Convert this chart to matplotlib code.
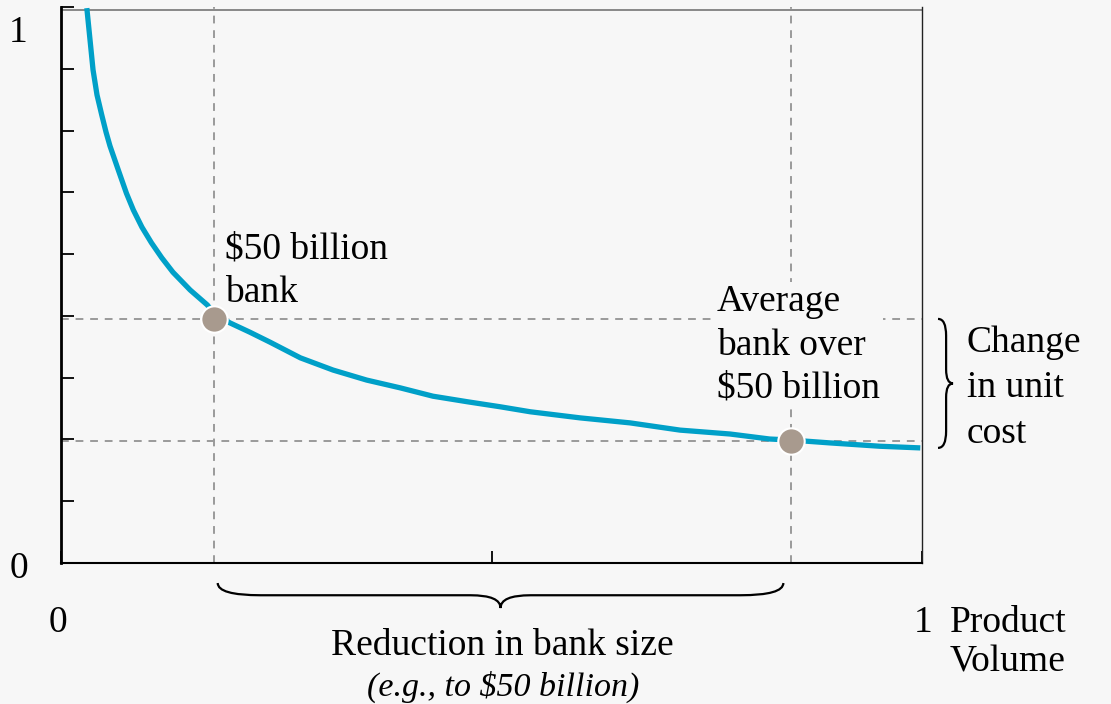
import matplotlib
matplotlib.use("Agg")
import matplotlib.pyplot as plt
from matplotlib.path import Path
from matplotlib.patches import PathPatch

plt.rcParams['font.family'] = ['Liberation Serif', 'DejaVu Serif']

# average cost curve
volume = [0.030, 0.0337, 0.0372, 0.0418, 0.0473, 0.0523, 0.0569, 0.0665, 0.076, 0.084,
          0.094, 0.105, 0.117, 0.130, 0.150, 0.170, 0.1765, 0.196, 0.2195, 0.243,
          0.278, 0.316, 0.355, 0.394, 0.432, 0.472, 0.510, 0.545, 0.603, 0.661,
          0.719, 0.777, 0.823, 0.849, 0.893, 0.951, 0.998]
unit_cost = [0.998, 0.941, 0.887, 0.842, 0.806, 0.775, 0.750, 0.707, 0.665, 0.635,
             0.604, 0.576, 0.549, 0.523, 0.491, 0.464, 0.451, 0.432, 0.415, 0.397,
             0.369, 0.347, 0.329, 0.315, 0.300, 0.290, 0.281, 0.272, 0.261, 0.252,
             0.239, 0.232, 0.223, 0.221, 0.216, 0.210, 0.207]

# the two banks marked on the curve
bank_x = [0.178, 0.848]
bank_y = [0.439, 0.219]

bg = '#f7f7f7'
line_col = '#00a0c8'
dot_col = '#a89a8e'
dash_col = '#9a9a9a'
fs = 27

fig = plt.figure(figsize=(11.11, 7.04), dpi=100, facecolor=bg)
ax = fig.add_axes([61 / 1111, 1 - 563 / 704, 861 / 1111, 556 / 704], facecolor=bg)
ax.set_xlim(0, 1)
ax.set_ylim(0, 1)

# frame
ax.spines['top'].set_visible(False)
ax.axhline(0.994, color='#808080', lw=1.3, zorder=1)
ax.spines['left'].set_linewidth(2)
ax.spines['left'].set_color('black')
ax.spines['bottom'].set_linewidth(1.5)
ax.spines['right'].set_linewidth(1.0)
ax.spines['right'].set_color('#222222')

ax.set_yticks([k / 9 for k in range(10)])
ax.set_xticks([0, 0.5, 1])
ax.tick_params(direction='in', length=9, width=1.3, color='black',
               labelleft=False, labelbottom=False)

# guide lines through the two banks
for x in bank_x:
    ax.axvline(x, color=dash_col, lw=1.4, ls=(0, (4, 3.5)), zorder=2)
for y in bank_y:
    ax.axhline(y, color=dash_col, lw=1.4, ls=(0, (4, 3.5)), zorder=2)

ax.plot(volume, unit_cost, color=line_col, lw=3.8, solid_capstyle='butt', zorder=3)
ax.plot(bank_x, bank_y, 'o', ms=19, color=dot_col, mec='white', mew=1.5, zorder=4)

# axis end labels (multi-line texts sit on the baseline of their last line)
ax.text(-0.050, 0.937, '1', fontsize=fs, ha='center', va='baseline', clip_on=False)
ax.text(-0.049, -0.027, '0', fontsize=fs, ha='center', va='baseline', clip_on=False)
ax.text(-0.004, -0.124, '0', fontsize=fs, ha='center', va='baseline', clip_on=False)
ax.text(1.001, -0.124, '1', fontsize=fs, ha='center', va='baseline', clip_on=False)
ax.text(1.0325, -0.196, 'Product\nVolume', fontsize=fs, ha='left', va='baseline',
        linespacing=1.19, clip_on=False)

# annotations
ax.text(0.1905, 0.4694, '$50 billion\nbank', fontsize=fs, ha='left', va='baseline',
        linespacing=1.33, zorder=5)
ax.text(0.762, 0.2968, 'Average\nbank over\n$50 billion', fontsize=fs, ha='left',
        va='baseline', linespacing=1.33, zorder=5,
        bbox=dict(facecolor=bg, edgecolor='none', pad=2))
ax.text(1.052, 0.2158, 'Change\nin unit\ncost', fontsize=fs, ha='left', va='baseline',
        linespacing=1.42, clip_on=False)
ax.text(0.513, -0.165, 'Reduction in bank size', fontsize=fs, ha='center',
        va='baseline', clip_on=False)
ax.text(0.513, -0.239, '(e.g., to $50 billion)', fontsize=24.5, style='italic',
        ha='center', va='baseline', clip_on=False)


def brace(ax, a, b, tip, end, mid, r_end, r_tip, vertical=False):
    """Curly brace from a to b along one axis; ends at `end`, body at `mid`, point at `tip`."""
    c = (a + b) / 2
    pts = [(a, end), (a, mid), (a + r_end, mid),
           (c - r_tip, mid),
           (c, mid), (c, tip),
           (c, mid), (c + r_tip, mid),
           (b - r_end, mid),
           (b, mid), (b, end)]
    codes = [Path.MOVETO, Path.CURVE3, Path.CURVE3,
             Path.LINETO,
             Path.CURVE3, Path.CURVE3,
             Path.CURVE3, Path.CURVE3,
             Path.LINETO,
             Path.CURVE3, Path.CURVE3]
    if vertical:
        pts = [(q, p) for p, q in pts]
    ax.add_patch(PathPatch(Path(pts, codes), fill=False, lw=1.6, color='black',
                           clip_on=False))


brace(ax, 0.182, 0.839, tip=-0.081, end=-0.036, mid=-0.058, r_end=0.05, r_tip=0.035)
brace(ax, 0.207, 0.439, tip=1.036, end=1.0186, mid=1.028, r_end=0.03, r_tip=0.025,
      vertical=True)

fig.savefig('out.png', dpi=100, facecolor=bg)
